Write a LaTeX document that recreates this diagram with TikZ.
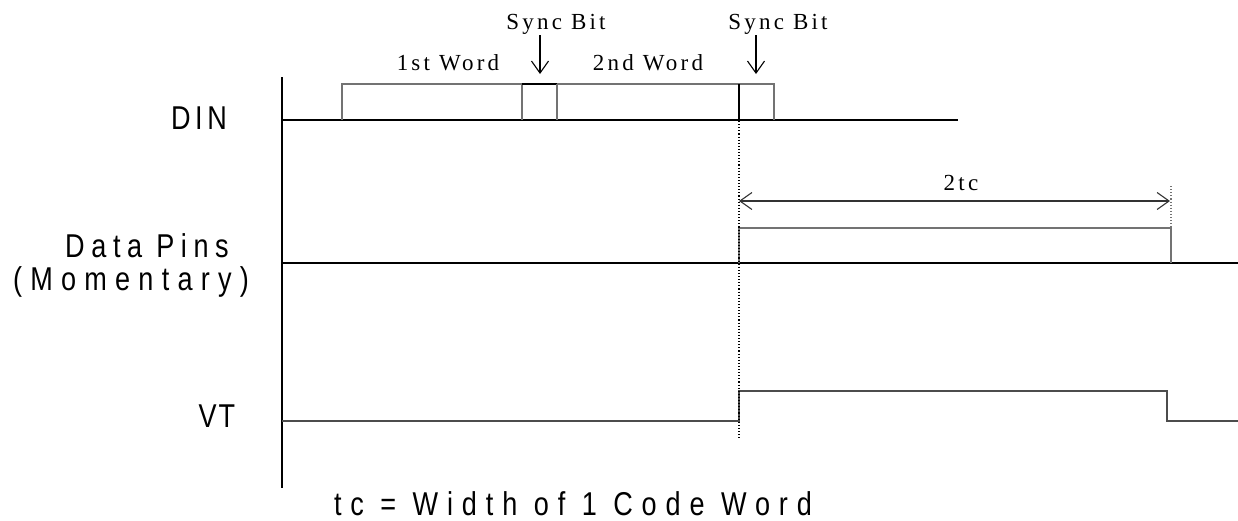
\documentclass[tikz,border=0pt]{standalone}
\usepackage{fontspec}
\usetikzlibrary{arrows.meta}
\newfontfamily\lblsans[FakeStretch=0.82,LetterSpace=27]{Liberation Sans}
\newfontfamily\lblserif[LetterSpace=14]{Liberation Serif}
\tikzset{
  sig/.style={line width=1.3pt, black},
  pulse/.style={line width=1.6pt, draw=black!55},
  syncedge/.style={line width=2pt, black},
  guide/.style={line width=1.1pt, dotted},
  sanslbl/.style={anchor=base, inner sep=0pt, font=\lblsans\fontsize{33}{38}\selectfont},
  seriflbl/.style={anchor=base, inner sep=0pt, font=\lblserif\fontsize{23}{27}\selectfont},
  barb/.style={line width=1.1pt, -{Straight Barb[length=12pt,width=17pt,line width=1.1pt]}},
  dimarr/.style={line width=1.1pt, draw=black!80, {Straight Barb[length=12pt,width=17pt,line width=1.1pt]}-{Straight Barb[length=12pt,width=17pt,line width=1.1pt]}}
}
\begin{document}
\begin{tikzpicture}[x=1pt,y=-1pt]
\useasboundingbox (0,0) rectangle (1238,520);
% axis
\coordinate (axtop) at (282,77);
\coordinate (axbot) at (282,488);
\draw[sig] (axtop) -- (axbot);
% DIN
\coordinate (din0) at (282,120);
\coordinate (din1) at (958,120);
\draw[sig] (din0) -- (din1);
\draw[pulse] (342,120) -- (342,84) -- (522,84);
\draw[pulse] (522,120) -- (522,84);
\draw[syncedge] (522,84) -- (557,84);
\draw[pulse] (557,84) -- (739,84) -- (774,84) -- (774,120);
\draw[pulse] (557,120) -- (557,84);
\draw[syncedge] (739,84) -- (739,120);
% Data pins
\coordinate (dp0) at (282,263);
\coordinate (dp1) at (1238,263);
\draw[sig] (dp0) -- (dp1);
\draw[pulse] (739,263) -- (739,228) -- (1171,228) -- (1171,263);
% VT
\draw[pulse, draw=black!70] (282,421) -- (739,421) -- (739,391) -- (1167,391) -- (1167,421) -- (1238,421);
% guides
\coordinate (g1a) at (739,121);
\coordinate (g1b) at (739,440);
\draw[guide] (g1a) -- (g1b);
\coordinate (g2a) at (1171,186);
\coordinate (g2b) at (1171,228);
\draw[guide, draw=black!55] (g2a) -- (g2b);
% dimension arrow
\coordinate (d0) at (739,201);
\coordinate (d1) at (1170,201);
\draw[dimarr] (d0) -- (d1);
% sync arrows
\coordinate (s1a) at (540,35);
\coordinate (s1b) at (540,74);
\coordinate (s2a) at (756,35);
\coordinate (s2b) at (756,74);
\draw[barb] (s1a) -- (s1b);
\draw[barb] (s2a) -- (s2b);
% labels
\node[sanslbl] (ldin) at (199,129) {\addfontfeatures{LetterSpace=14}DIN};
\node[sanslbl] (ldp) at (147,257) {\addfontfeatures{LetterSpace=20}Data Pins};
\node[sanslbl] (lmom) at (131,290) {\addfontfeatures{LetterSpace=25}(Momentary)};
\node[sanslbl] (lvt) at (217,427) {\addfontfeatures{LetterSpace=6}VT};
\node[sanslbl] (ltc) at (573,515) {tc = Width of 1 Code Word};
\node[seriflbl] (w1) at (448,70) {1st Word};
\node[seriflbl] (w2) at (648,70) {2nd Word};
\node[seriflbl] (sb1) at (556,29) {Sync Bit};
\node[seriflbl] (sb2) at (778,29) {Sync Bit};
\node[seriflbl] (l2tc) at (961,190) {2tc};
\end{tikzpicture}
\end{document}
